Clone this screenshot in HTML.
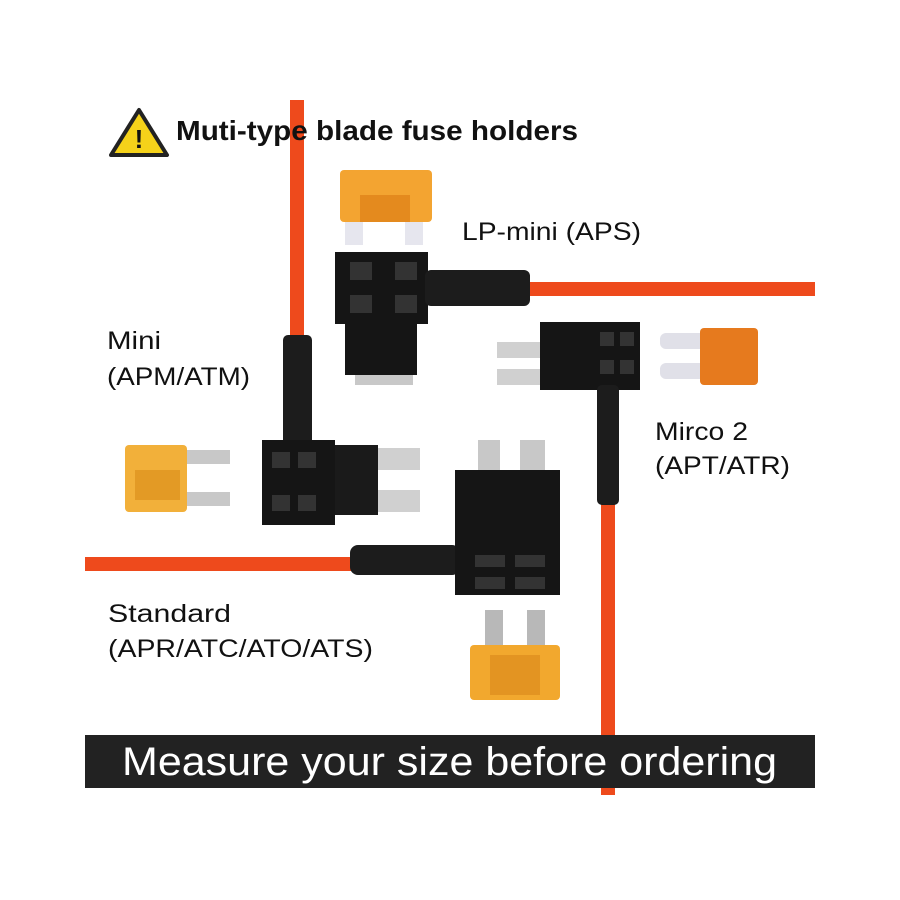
<!DOCTYPE html>
<html><head><meta charset="utf-8"><style>
html,body{margin:0;padding:0;background:#fff}
svg{display:block}
text{font-family:"Liberation Sans","DejaVu Sans",sans-serif;fill:#111}
</style></head><body>
<svg width="900" height="900" viewBox="0 0 900 900" xmlns="http://www.w3.org/2000/svg">
<rect width="900" height="900" fill="#fff"/>
<!-- wires -->
<rect x="290" y="100" width="14" height="250" fill="#ee4a1c"/>
<rect x="520" y="282" width="295" height="14" fill="#ee4a1c"/>
<rect x="601" y="490" width="14" height="305" fill="#ee4a1c"/>
<rect x="85" y="557" width="275" height="14" fill="#ee4a1c"/>
<!-- title -->
<polygon points="139,110 167,155 111,155" fill="#f5d21a" stroke="#222" stroke-width="4" stroke-linejoin="round"/>
<text x="139" y="148" font-size="26" font-weight="bold" text-anchor="middle">!</text>
<text x="176" y="140" font-size="28" font-weight="bold" textLength="402" lengthAdjust="spacingAndGlyphs">Muti-type blade fuse holders</text>
<!-- labels -->
<text x="462" y="240" font-size="25" textLength="179" lengthAdjust="spacingAndGlyphs">LP-mini (APS)</text>
<text x="107" y="349" font-size="25" textLength="54" lengthAdjust="spacingAndGlyphs">Mini</text>
<text x="107" y="385" font-size="25" textLength="143" lengthAdjust="spacingAndGlyphs">(APM/ATM)</text>
<text x="655" y="440" font-size="25" textLength="93" lengthAdjust="spacingAndGlyphs">Mirco 2</text>
<text x="655" y="474" font-size="25" textLength="135" lengthAdjust="spacingAndGlyphs">(APT/ATR)</text>
<text x="108" y="622" font-size="25" textLength="123" lengthAdjust="spacingAndGlyphs">Standard</text>
<text x="108" y="657" font-size="25" textLength="265" lengthAdjust="spacingAndGlyphs">(APR/ATC/ATO/ATS)</text>
<!-- LP-mini fuse -->
<rect x="345" y="205" width="18" height="40" fill="#e6e6ee"/>
<rect x="405" y="205" width="18" height="40" fill="#e6e6ee"/>
<rect x="340" y="170" width="92" height="52" rx="4" fill="#f3a431"/>
<rect x="360" y="195" width="50" height="27" fill="#e48a1e"/>
<!-- LP-mini holder -->
<rect x="355" y="355" width="58" height="30" fill="#c8c8c8"/>
<rect x="335" y="252" width="93" height="72" fill="#151515"/>
<rect x="345" y="320" width="72" height="55" fill="#151515"/>
<rect x="425" y="270" width="105" height="36" rx="6" fill="#1c1c1c"/>
<rect x="350" y="262" width="22" height="18" fill="#333"/><rect x="395" y="262" width="22" height="18" fill="#333"/>
<rect x="350" y="295" width="22" height="18" fill="#333"/><rect x="395" y="295" width="22" height="18" fill="#333"/>
<!-- Mini holder -->
<rect x="283" y="335" width="29" height="110" rx="5" fill="#1c1c1c"/>
<rect x="375" y="448" width="45" height="22" fill="#d0d0d0"/>
<rect x="375" y="490" width="45" height="22" fill="#d0d0d0"/>
<rect x="262" y="440" width="73" height="85" fill="#151515"/>
<rect x="335" y="445" width="43" height="70" fill="#1a1a1a"/>
<rect x="272" y="452" width="18" height="16" fill="#333"/><rect x="298" y="452" width="18" height="16" fill="#333"/>
<rect x="272" y="495" width="18" height="16" fill="#333"/><rect x="298" y="495" width="18" height="16" fill="#333"/>
<!-- Mini fuse -->
<rect x="180" y="450" width="50" height="14" fill="#c8c8c8"/>
<rect x="180" y="492" width="50" height="14" fill="#c8c8c8"/>
<rect x="125" y="445" width="62" height="67" rx="4" fill="#f2b03a"/>
<rect x="135" y="470" width="45" height="30" fill="#e39a25"/>
<!-- Mirco2 holder -->
<rect x="497" y="342" width="45" height="16" fill="#d0d0d0"/>
<rect x="497" y="369" width="45" height="16" fill="#d0d0d0"/>
<rect x="540" y="322" width="100" height="68" fill="#151515"/>
<rect x="597" y="385" width="22" height="120" rx="5" fill="#1c1c1c"/>
<rect x="600" y="332" width="14" height="14" fill="#333"/><rect x="620" y="332" width="14" height="14" fill="#333"/>
<rect x="600" y="360" width="14" height="14" fill="#333"/><rect x="620" y="360" width="14" height="14" fill="#333"/>
<!-- Mirco2 fuse -->
<rect x="660" y="333" width="50" height="16" rx="6" fill="#e0e0e8"/>
<rect x="660" y="363" width="50" height="16" rx="6" fill="#e0e0e8"/>
<rect x="700" y="328" width="58" height="57" rx="4" fill="#e67a1e"/>
<!-- Standard holder -->
<rect x="478" y="440" width="22" height="35" fill="#c8c8c8"/>
<rect x="520" y="440" width="25" height="35" fill="#c8c8c8"/>
<rect x="350" y="545" width="110" height="30" rx="8" fill="#1c1c1c"/>
<rect x="455" y="470" width="105" height="125" fill="#151515"/>
<rect x="475" y="555" width="30" height="12" fill="#333"/><rect x="515" y="555" width="30" height="12" fill="#333"/>
<rect x="475" y="577" width="30" height="12" fill="#333"/><rect x="515" y="577" width="30" height="12" fill="#333"/>
<!-- Standard fuse -->
<rect x="485" y="610" width="18" height="40" fill="#b8b8b8"/>
<rect x="527" y="610" width="18" height="40" fill="#b8b8b8"/>
<rect x="470" y="645" width="90" height="55" rx="4" fill="#f2a82e"/>
<rect x="490" y="655" width="50" height="40" fill="#e39422"/>
<!-- banner -->
<rect x="85" y="735" width="730" height="53" fill="#222"/>
<text x="122" y="775" font-size="40" textLength="655" lengthAdjust="spacingAndGlyphs" style="fill:#fff">Measure your size before ordering</text>
</svg>
</body></html>
